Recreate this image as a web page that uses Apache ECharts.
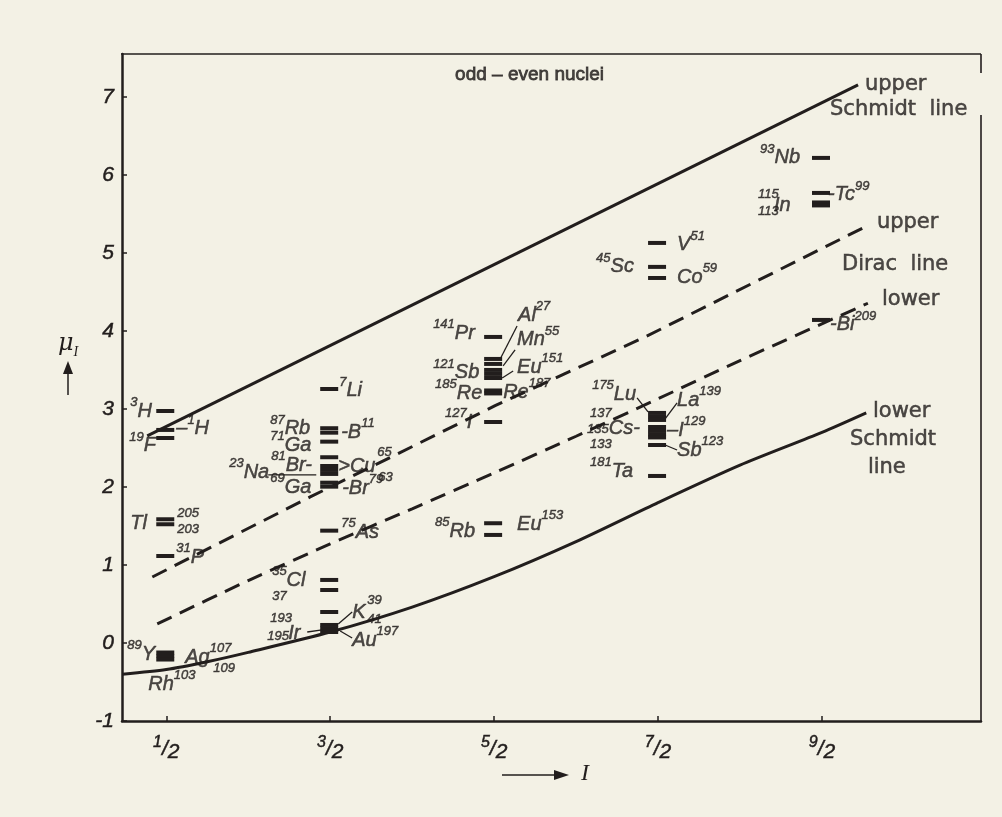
<!DOCTYPE html>
<html><head><meta charset="utf-8">
<script src="https://cdn.jsdelivr.net/npm/echarts@6/dist/echarts.min.js"></script>
<style>html,body{margin:0;padding:0;background:#f3f1e5}#c{width:1002px;height:817px}</style>
</head><body><div id="c"></div>
<script>
// ---- data ----
const spinTicks = [0.5, 1.5, 2.5, 3.5, 4.5];
const spinLabels = ['1/2', '3/2', '5/2', '7/2', '9/2'];
const muTicks = [-1, 0, 1, 2, 3, 4, 5, 6, 7];

// measured magnetic moments (bars) per spin value
const muSpinHalf = [2.974, 2.731, 2.628, 1.586, 1.522, 1.115, -0.122, -0.167, -0.212];
const muSpin3Half = [3.256, 2.753, 2.696, 2.581, 2.381, 2.269, 2.218, 2.167, 2.055, 2.004, 1.440, 0.808, 0.679, 0.397, 0.231, 0.186, 0.141];
const muSpin5Half = [3.923, 3.641, 3.577, 3.500, 3.449, 3.397, 3.237, 3.199, 2.833, 1.535, 1.385];
const muSpin7Half = [5.128, 4.821, 4.679, 2.949, 2.904, 2.859, 2.769, 2.718, 2.673, 2.635, 2.538, 2.141];
const muSpin9Half = [6.218, 5.769, 5.647, 5.609, 4.141];

// limit lines  [I, mu]
const upperSchmidt = [[0.384, 2.654], [4.72, 7.154]];
const lowerSchmidt = [[0.232, -0.40], [0.50, -0.34], [0.75, -0.24], [1.00, -0.12], [1.50, 0.14], [2.00, 0.46], [2.50, 0.85], [3.00, 1.30], [3.50, 1.80], [4.00, 2.28], [4.50, 2.70], [4.77, 2.95]];
const upperDirac = [[0.415, 0.846], [1.378, 1.872], [2.506, 3.042], [3.421, 3.923], [4.762, 5.333]];
const lowerDirac = [[0.445, 0.244], [1.00, 0.80], [1.50, 1.27], [2.00, 1.72], [2.50, 2.18], [3.00, 2.65], [3.50, 3.13], [4.00, 3.62], [4.78, 4.355]];

// nuclide labels  [I, mu, rich text]
const nuclideNotes = [
  [0.2805, 2.974, '{p|3}{e|H}'], [0.561, 2.744, '{e|–}{p|1}{e|H}'], [0.274, 2.526, '{p|19}{e|F}'],
  [0.280, 1.538, '{e|Tl}'], [0.567, 1.667, '{n|205}'], [0.567, 1.462, '{n|203}'],
  [0.561, 1.103, '{p|31}{e|P}'], [0.262, -0.141, '{p|89}{e|Y}'], [0.390, -0.526, '{e|Rh}{p|103}'],
  [0.616, -0.179, '{e|Ag}{p|107}'], [0.787, -0.321, '{n|109}'],
  [1.555, 3.231, '{p|7}{e|Li}'], [1.134, 2.744, '{p|87}{e|Rb}'], [1.567, 2.705, '{e|-B}{p|11}'],
  [1.134, 2.538, '{p|71}{e|Ga}'], [1.140, 2.282, '{p|81}{e|Br-}'], [0.884, 2.192, '{p|23}{e|Na}'],
  [1.134, 2.000, '{p|69}{e|Ga}'], [1.549, 2.269, '{e|>Cu}'], [1.787, 2.449, '{n|65}'], [1.793, 2.128, '{n|63}'],
  [1.573, 1.987, '{e|-Br}{p|79}'], [1.567, 1.423, '{p|75}{e|As}'], [1.146, 0.808, '{p|35}{e|Cl}'],
  [1.146, 0.603, '{n|37}'], [1.634, 0.397, '{e|K}'], [1.726, 0.551, '{n|39}'], [1.726, 0.308, '{n|41}'],
  [1.134, 0.321, '{n|193}'], [1.116, 0.090, '{n|195}'], [1.244, 0.128, '{e|Ir}'], [1.634, 0.038, '{e|Au}{p|197}'],
  [2.128, 3.974, '{p|141}{e|Pr}'], [2.646, 4.205, '{e|Al}{p|27}'], [2.640, 3.885, '{e|Mn}{p|55}'],
  [2.640, 3.538, '{e|Eu}{p|151}'], [2.128, 3.462, '{p|121}{e|Sb}'], [2.140, 3.205, '{p|185}{e|Re}'],
  [2.555, 3.218, '{e|Re}{p|187}'], [2.201, 2.833, '{p|127}{e|I}'], [2.140, 1.436, '{p|85}{e|Rb}'],
  [2.640, 1.526, '{e|Eu}{p|153}'],
  [3.616, 5.103, '{e|V}{p|51}'], [3.122, 4.821, '{p|45}{e|Sc}'], [3.616, 4.692, '{e|Co}{p|59}'],
  [3.098, 3.192, '{p|175}{e|Lu}'], [3.616, 3.115, '{e|La}{p|139}'], [3.085, 2.949, '{n|137}'],
  [3.067, 2.744, '{n|135}{e|Cs-}'], [3.085, 2.551, '{n|133}'], [3.555, 2.731, '{e|–I}{p|129}'],
  [3.616, 2.474, '{e|Sb}{p|123}'], [3.085, 2.205, '{p|181}{e|Ta}'],
  [4.122, 6.218, '{p|93}{e|Nb}'], [4.110, 5.756, '{n|115}'], [4.110, 5.538, '{n|113}'], [4.207, 5.615, '{e|In}'],
  [4.537, 5.744, '{e|-Tc}{p|99}'], [4.549, 4.077, '{e|-Bi}{p|209}']
];
// leader strokes from labels to bars  [I1, mu1, I2, mu2]
const leaders = [
  [1.122, 2.154, 1.415, 2.154], [1.549, 0.244, 1.634, 0.397], [1.360, 0.141, 1.451, 0.167],
  [1.561, 0.154, 1.634, 0.064], [2.640, 4.064, 2.537, 3.641], [2.628, 3.756, 2.555, 3.551],
  [2.616, 3.487, 2.549, 3.397], [3.372, 3.141, 3.439, 2.962], [3.616, 3.077, 3.543, 2.872],
  [3.543, 2.538, 3.616, 2.474]
];
// curve names  [I, mu, text]
const lineNotes = [
  [4.762, 7.154, 'upper'], [4.549, 6.833, 'Schmidt  line'],
  [4.835, 5.385, 'upper'], [4.622, 4.846, 'Dirac  line'], [4.866, 4.397, 'lower'],
  [4.811, 2.962, 'lower'], [4.671, 2.603, 'Schmidt'], [4.780, 2.244, 'line']
];
const titleNote = [2.262, 7.282, 'odd – even nuclei'];

// ---- chart ----
const INK = '#221e1d';
const barGroups = [muSpinHalf, muSpin3Half, muSpin5Half, muSpin7Half, muSpin9Half];
const bars = [];
barGroups.forEach((g, i) => g.forEach(m => bars.push([spinTicks[i], m])));

const sans = 'Liberation Sans';
const heavy = {textBorderColor: INK, textBorderWidth: 0.5};
const rich = {
  e: Object.assign({fontSize: 20, fontStyle: 'italic', fontFamily: sans, color: INK, lineHeight: 30, verticalAlign: 'middle'}, heavy),
  p: Object.assign({fontSize: 13, fontStyle: 'italic', fontFamily: sans, color: INK, lineHeight: 30, verticalAlign: 'top'}, heavy),
  n: Object.assign({fontSize: 13, fontStyle: 'italic', fontFamily: sans, color: INK, lineHeight: 16, verticalAlign: 'middle'}, heavy)
};

const chart = echarts.init(document.getElementById('c'));
const lineSeries = (data, dashed, smooth) => ({
  type: 'line', data, showSymbol: false, symbol: 'none', smooth: smooth ? 0.25 : false,
  lineStyle: {color: INK, width: 3, type: dashed ? [16, 9] : 'solid', cap: 'butt'},
  silent: true, z: 3
});

chart.setOption({
  backgroundColor: '#f3f1e5',
  animation: false,
  grid: {left: 122, right: 21, top: 54, bottom: 96, show: false},
  xAxis: {
    type: 'value', min: 0.23, max: 5.47,
    axisLine: {show: true, onZero: false, lineStyle: {color: INK, width: 2.5}},
    splitLine: {show: false},
    axisTick: {show: true, inside: true, length: 5, lineStyle: {color: INK, width: 1.5}, customValues: spinTicks},
    axisLabel: {
      customValues: spinTicks, margin: 14,
      formatter: v => { const k = spinTicks.indexOf(v); if (k < 0) return ''; const [a, b] = spinLabels[k].split('/'); return '{a|' + a + '}{s|/}{b|' + b + '}'; },
      rich: {
        a: Object.assign({fontSize: 16, fontStyle: 'italic', fontFamily: sans, color: INK, lineHeight: 28, verticalAlign: 'top'}, heavy),
        s: Object.assign({fontSize: 21, fontStyle: 'italic', fontFamily: sans, color: INK, lineHeight: 28}, heavy),
        b: Object.assign({fontSize: 21, fontStyle: 'italic', fontFamily: sans, color: INK, lineHeight: 28, verticalAlign: 'bottom'}, heavy)
      }
    }
  },
  yAxis: {
    type: 'value', min: -1, max: 7.55,
    axisLine: {show: true, onZero: false, lineStyle: {color: INK, width: 2.5}},
    splitLine: {show: false},
    axisTick: {show: true, inside: true, length: 5, lineStyle: {color: INK, width: 1.5}, customValues: muTicks},
    axisLabel: Object.assign({customValues: muTicks, margin: 8, color: INK, fontSize: 21, fontStyle: 'italic', fontFamily: sans,
      formatter: v => (v === -1 ? '-1' : String(v))}, heavy)
  },
  series: [
    lineSeries(upperSchmidt, false, false),
    lineSeries(lowerSchmidt, false, true),
    lineSeries(upperDirac, true, false),
    lineSeries(lowerDirac, true, true),
    {
      type: 'custom', data: bars, z: 4, silent: true,
      renderItem: (p, api) => {
        const c = api.coord([api.value(0), api.value(1)]);
        return {type: 'rect', shape: {x: c[0] - 10, y: c[1] - 2, width: 18, height: 4}, style: {fill: INK}};
      }
    },
    {
      type: 'custom', data: leaders, z: 4, silent: true,
      renderItem: (p, api) => {
        const a = api.coord([api.value(0), api.value(1)]);
        const b = api.coord([api.value(2), api.value(3)]);
        return {type: 'line', shape: {x1: a[0], y1: a[1], x2: b[0], y2: b[1]}, style: {stroke: INK, lineWidth: 1.3}};
      }
    },
    {
      type: 'scatter', data: nuclideNotes.map(n => [n[0], n[1]]), symbolSize: 0, silent: true, z: 5,
      label: {show: true, position: 'right', distance: 0, formatter: p => nuclideNotes[p.dataIndex][2], rich}
    },
    {
      type: 'scatter', data: lineNotes.map(n => [n[0], n[1]]), symbolSize: 0, silent: true, z: 5,
      label: Object.assign({show: true, position: 'right', distance: 0, formatter: p => lineNotes[p.dataIndex][2],
        color: INK, fontSize: 21, fontFamily: 'DejaVu Sans'}, heavy)
    },
    {
      type: 'scatter', data: [[titleNote[0], titleNote[1]]], symbolSize: 0, silent: true, z: 5,
      label: Object.assign({show: true, position: 'right', distance: 0, formatter: titleNote[2],
        color: INK, fontSize: 19, fontFamily: sans}, {textBorderColor: INK, textBorderWidth: 0.8})
    }
  ],
  graphic: [
    // top and right frame lines
    {type: 'line', shape: {x1: 121, y1: 54, x2: 981, y2: 54}, style: {stroke: INK, lineWidth: 1.6}},
    {type: 'line', shape: {x1: 981, y1: 54, x2: 981, y2: 73}, style: {stroke: INK, lineWidth: 1.6}},
    {type: 'line', shape: {x1: 981, y1: 115, x2: 981, y2: 721}, style: {stroke: INK, lineWidth: 1.6}},
    // y axis name with arrow
    {type: 'text', left: 58, top: 332, style: {text: '{m|μ}{i|I}', rich: {
      m: {fontSize: 24, fontStyle: 'italic', fontFamily: 'DejaVu Serif', fill: INK, lineHeight: 30},
      i: {fontSize: 14, fontStyle: 'italic', fontFamily: 'Liberation Serif', fill: INK, lineHeight: 30, verticalAlign: 'bottom'}}}},
    {type: 'line', shape: {x1: 68, y1: 395, x2: 68, y2: 372}, style: {stroke: INK, lineWidth: 1.5}},
    {type: 'polygon', shape: {points: [[63, 374], [73, 374], [68, 361]]}, style: {fill: INK}},
    // x axis name with arrow
    {type: 'line', shape: {x1: 502, y1: 775, x2: 556, y2: 775}, style: {stroke: INK, lineWidth: 1.5}},
    {type: 'polygon', shape: {points: [[554, 770], [554, 780], [569, 775]]}, style: {fill: INK}},
    {type: 'text', left: 581, top: 762, style: {text: 'I', fontSize: 24, fontStyle: 'italic', fontFamily: 'Liberation Serif', fill: INK}}
  ]
});
</script>
</body></html>
